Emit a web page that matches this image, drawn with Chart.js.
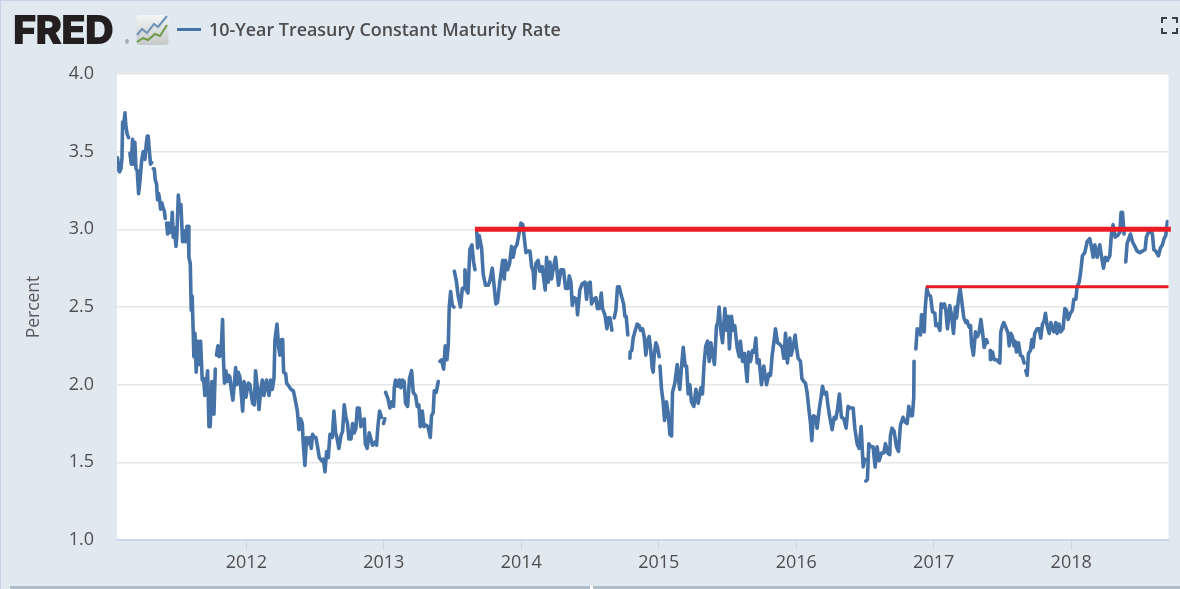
<!DOCTYPE html>
<html>
<head>
<meta charset="utf-8">
<title>10-Year Treasury Constant Maturity Rate</title>
<script src="https://cdn.jsdelivr.net/npm/chart.js@4/dist/chart.umd.min.js"></script>
<style>
  html, body { margin: 0; padding: 0; background: #e1e9f0; }
  #wrap { position: relative; width: 1180px; height: 589px; overflow: hidden; background: #e1e9f0; }
  #wrap canvas { position: absolute; left: 0; top: 0; }
  #topEdge { position: absolute; left: 0; top: 0; width: 1180px; height: 1px; background: #c6d3e6; }
  #leftEdge { position: absolute; left: 0; top: 0; width: 1px; height: 589px; background: #c6d3e6; }
  #bottomEdge { position: absolute; left: 10px; top: 586px; width: 1170px; height: 3px; background: #aebccb; }
  #notch { position: absolute; left: 590px; top: 586px; width: 3px; height: 3px; background: #ffffff; }
  #logo { position: absolute; left: 13px; top: 6px; font: 900 40px/48px Inter, sans-serif; letter-spacing: -0.9px; color: #231f20; }
  #reg { position: absolute; left: 125px; top: 39px; font: 5px/6px "Open Sans", sans-serif; color: #555; }
  #logoIcon { position: absolute; left: 136px; top: 14px; }
  #legendKey { position: absolute; left: 177px; top: 28px; width: 24px; height: 3px; background: #4572a7; }
  #legendText { position: absolute; left: 209px; top: 17px; font: 600 17.9px/24px "Open Sans", sans-serif; color: #4d4d4d; white-space: nowrap; }
  #fullscreen { position: absolute; left: 1161px; top: 17px; }
</style>
</head>
<body>
<div id="wrap">
  <canvas id="fredChart" width="1180" height="589"></canvas>
  <div id="topEdge"></div>
  <div id="leftEdge"></div>
  <div id="bottomEdge"></div>
  <div id="notch"></div>
  <div id="logo">FRED</div>
  <div id="reg">®</div>
  <svg id="logoIcon" width="33" height="32" viewBox="0 0 33 32">
    <defs>
      <linearGradient id="iconBg" x1="0" y1="0" x2="0" y2="1">
        <stop offset="0" stop-color="#f4f6f6"/>
        <stop offset="1" stop-color="#c4c8c8"/>
      </linearGradient>
    </defs>
    <rect x="0.5" y="1" width="32" height="30" rx="3" fill="url(#iconBg)"/>
    <polyline points="1,21 6,15 11,19 18,10 22,13 31,2" fill="none" stroke="#6d93b5" stroke-width="2"/>
    <polyline points="1,28 7,24 12,26 19,20 24,22 31,11" fill="none" stroke="#6f9a45" stroke-width="2"/>
  </svg>
  <div id="legendKey"></div>
  <div id="legendText">10-Year Treasury Constant Maturity Rate</div>
  <svg id="fullscreen" width="17" height="17" viewBox="0 0 17 17">
    <path d="M1 6V1H6M11 1H16V6M16 11V16H11M6 16H1V11" fill="none" stroke="#3a3f4a" stroke-width="2"/>
  </svg>
</div>
<script>
// values, null = missing day (line breaks there)
const dates2011 = [2011.063,2011.071,2011.078,2011.088,2011.095,2011.100,2011.109,2011.117,2011.124,2011.134,
  2011.143,2011.148,2011.153,2011.163,2011.172,2011.180,2011.189,2011.197,2011.206,2011.216,
  2011.226,2011.238,2011.250,2011.262,2011.272,2011.279,2011.286,2011.294,2011.303,2011.311,
  2011.315,2011.323,2011.330,2011.337,2011.347,2011.354,2011.362,2011.369,2011.376,2011.386,
  2011.393,2011.403,2011.410,2011.414,2011.420,2011.427,2011.434,2011.444,2011.454,2011.461,
  2011.468,2011.478,2011.488,2011.495,2011.505,2011.514,2011.524,2011.536,2011.546,2011.558,
  2011.568,2011.577,2011.582,2011.592,2011.599,2011.606,2011.614,2011.618,2011.626,2011.635,
  2011.648,2011.657,2011.667,2011.679,2011.689,2011.698,2011.708,2011.718,2011.728,2011.737,
  2011.749,2011.764,2011.774,2011.778,2011.783,2011.793,2011.803,2011.815,2011.827,2011.834,
  2011.841,2011.851,2011.861,2011.871,2011.880,2011.890,2011.902,2011.912,2011.922,2011.931,
  2011.941,2011.953,2011.973,2011.983,2011.997];
const rates2011 = [3.46,3.38,3.37,3.39,3.46,3.69,3.68,3.75,3.66,3.61,
  3.59,null,3.49,3.42,3.58,3.42,3.56,3.39,3.38,3.23,
  3.31,3.44,3.50,3.45,3.55,3.60,3.60,3.51,3.42,3.43,
  null,3.39,3.39,3.32,3.29,3.19,3.23,3.19,3.13,3.17,
  3.14,3.12,3.07,null,3.04,2.97,3.04,2.98,3.00,3.11,
  2.95,3.01,2.89,2.97,3.22,3.12,3.16,2.92,2.99,2.92,
  3.02,3.02,2.82,2.78,2.48,2.57,2.32,2.18,2.33,2.08,
  2.28,2.13,2.28,2.03,2.04,1.93,1.98,2.09,1.73,1.73,
  2.02,1.81,2.10,null,2.19,2.25,2.18,2.19,2.42,2.15,
  2.01,2.09,2.02,2.06,2.05,1.97,1.90,2.00,2.11,2.00,
  2.08,2.05,1.83,2.02,1.92];

const dates2012 = [2012.014,2012.026,2012.045,2012.058,2012.067,2012.080,2012.092,2012.104,2012.116,2012.128,
  2012.147,2012.165,2012.177,2012.189,2012.201,2012.208,2012.223,2012.235,2012.244,2012.256,
  2012.264,2012.271,2012.286,2012.293,2012.310,2012.324,2012.342,2012.354,2012.371,2012.383,
  2012.395,2012.407,2012.414,2012.426,2012.438,2012.450,2012.462,2012.472,2012.482,2012.497,
  2012.506,2012.518,2012.531,2012.548,2012.560,2012.572,2012.584,2012.596,2012.608,2012.625,
  2012.637,2012.649,2012.661,2012.673,2012.688,2012.700,2012.712,2012.724,2012.736,2012.746,
  2012.761,2012.773,2012.785,2012.797,2012.807,2012.821,2012.833,2012.845,2012.858,2012.865,
  2012.879,2012.894,2012.906,2012.918,2012.935,2012.947,2012.957,2012.969,2012.983,2012.992,
  2012.998];
const rates2012 = [2.01,2.00,1.88,1.87,2.09,1.98,1.84,1.96,2.03,1.93,
  2.03,1.93,2.03,1.97,2.04,2.29,2.39,2.24,2.19,2.29,
  2.29,2.08,2.07,2.01,1.99,1.97,1.96,1.91,1.83,1.71,
  1.78,1.75,1.62,1.48,1.66,1.62,1.66,1.59,1.68,1.66,
  1.66,1.60,1.53,1.51,1.52,1.44,1.57,1.53,1.68,1.66,
  1.83,1.69,1.65,1.59,1.67,1.70,1.87,1.79,1.75,1.65,
  1.65,1.75,1.69,1.72,1.85,1.85,1.73,1.77,1.78,1.62,
  1.59,1.69,1.65,1.61,1.63,1.61,1.73,1.83,1.79,null,
  1.75];

const dates2013 = [2013.007,2013.010,2013.013,2013.030,2013.044,2013.059,2013.071,2013.076,2013.085,2013.100,
  2013.112,2013.124,2013.134,2013.148,2013.158,2013.173,2013.187,2013.202,2013.214,2013.231,
  2013.243,2013.255,2013.265,2013.280,2013.292,2013.306,2013.321,2013.338,2013.347,2013.359,
  2013.367,2013.381,2013.396,2013.400,2013.408,2013.420,2013.435,2013.447,2013.459,2013.469,
  2013.476,2013.486,2013.498,2013.510,2013.511,2013.513,2013.527,2013.541,2013.558,2013.571,
  2013.585,2013.590,2013.600,2013.612,2013.626,2013.641,2013.653,2013.663,2013.666,2013.675,
  2013.682,2013.694,2013.711,2013.723,2013.740,2013.760,2013.772,2013.789,2013.803,2013.815,
  2013.827,2013.842,2013.856,2013.864,2013.876,2013.885,2013.900,2013.915,2013.929,2013.941,
  2013.953,2013.968,2013.983,2013.997];
const rates2013 = [1.78,null,1.95,1.91,1.85,1.89,1.86,1.98,2.03,1.99,
  2.03,1.98,2.03,2.02,1.88,1.86,2.04,2.09,1.95,1.93,
  1.86,1.87,1.73,1.83,1.73,1.74,1.73,1.66,1.80,1.82,
  1.96,1.95,2.02,null,2.15,2.16,2.10,2.25,2.16,2.26,
  2.50,2.60,2.51,2.50,null,2.73,2.67,2.57,2.50,2.62,
  2.62,2.74,2.61,2.59,2.87,2.90,2.79,2.74,null,3.00,
  2.88,2.96,2.88,2.71,2.64,2.64,2.67,2.75,2.63,2.52,
  2.53,2.65,2.74,2.80,2.68,2.80,2.74,2.78,2.89,2.82,
  2.88,2.90,2.97,3.04];

const dates2014 = [2014.011,2014.021,2014.034,2014.050,2014.063,2014.075,2014.087,2014.094,2014.106,2014.123,
  2014.135,2014.152,2014.162,2014.174,2014.184,2014.196,2014.208,2014.220,2014.235,2014.249,
  2014.259,2014.271,2014.288,2014.307,2014.322,2014.339,2014.349,2014.361,2014.371,2014.385,
  2014.402,2014.409,2014.426,2014.443,2014.463,2014.475,2014.487,2014.501,2014.511,2014.528,
  2014.543,2014.553,2014.567,2014.582,2014.591,2014.608,2014.623,2014.632,2014.645,2014.659,
  2014.664,2014.676,2014.688,2014.700,2014.712,2014.729,2014.744,2014.754,2014.763,2014.775,
  2014.782,2014.790,2014.792,2014.804,2014.814,2014.826,2014.843,2014.858,2014.867,2014.882,
  2014.894,2014.906,2014.918,2014.930,2014.942,2014.952,2014.959,2014.967,2014.979,2014.991];
const rates2014 = [3.03,2.95,2.85,2.86,2.86,2.76,2.73,2.62,2.78,2.80,
  2.73,2.76,2.69,2.61,2.82,2.66,2.79,2.68,2.76,2.82,
  2.74,2.64,2.74,2.74,2.62,2.62,2.70,2.66,2.51,2.56,
  2.55,2.45,2.61,2.65,2.66,2.55,2.65,2.66,2.52,2.55,
  2.56,2.49,2.49,2.59,2.49,2.45,2.36,2.43,2.43,2.35,
  null,2.43,2.48,2.63,2.63,2.57,2.52,2.44,2.44,2.32,
  null,2.17,2.21,2.22,2.30,2.34,2.39,2.38,2.35,2.36,
  2.31,2.19,2.28,2.31,2.22,2.11,2.08,2.19,2.27,2.24];

const dates2015 = [2015.003,2015.006,2015.009,2015.020,2015.032,2015.042,2015.056,2015.068,2015.081,2015.093,
  2015.100,2015.117,2015.134,2015.148,2015.153,2015.165,2015.178,2015.192,2015.202,2015.214,
  2015.226,2015.238,2015.255,2015.270,2015.287,2015.306,2015.318,2015.330,2015.342,2015.355,
  2015.367,2015.379,2015.391,2015.405,2015.420,2015.430,2015.439,2015.451,2015.464,2015.481,
  2015.493,2015.505,2015.514,2015.529,2015.541,2015.553,2015.570,2015.585,2015.594,2015.609,
  2015.624,2015.633,2015.643,2015.653,2015.667,2015.682,2015.694,2015.706,2015.716,2015.730,
  2015.747,2015.764,2015.784,2015.801,2015.813,2015.825,2015.837,2015.849,2015.864,2015.881,
  2015.898,2015.910,2015.922,2015.936,2015.953,2015.963,2015.977,2015.992];
const rates2015 = [2.18,null,2.12,1.97,1.89,1.77,1.89,1.82,1.68,1.67,
  1.95,2.01,2.13,2.00,1.97,2.11,2.24,2.12,2.12,1.94,
  2.00,1.89,1.86,1.97,1.88,1.98,1.94,2.14,2.25,2.28,
  2.15,2.27,2.20,2.13,2.38,2.40,2.50,2.35,2.27,2.49,
  2.35,2.44,2.23,2.44,2.35,2.38,2.24,2.18,2.28,2.15,
  2.20,2.11,2.02,2.21,2.15,2.22,2.21,2.30,2.14,2.16,
  2.00,2.12,2.00,2.07,2.06,2.19,2.27,2.36,2.27,2.26,
  2.24,2.17,2.33,2.14,2.30,2.19,2.24,2.32];

const dates2016 = [2016.002,2016.014,2016.031,2016.041,2016.055,2016.067,2016.079,2016.091,2016.104,2016.113,
  2016.125,2016.140,2016.152,2016.167,2016.179,2016.191,2016.205,2016.220,2016.230,2016.244,
  2016.261,2016.276,2016.288,2016.300,2016.314,2016.329,2016.346,2016.363,2016.377,2016.394,
  2016.414,2016.426,2016.443,2016.457,2016.472,2016.487,2016.499,2016.503,2016.506,2016.518,
  2016.528,2016.542,2016.559,2016.574,2016.588,2016.603,2016.620,2016.637,2016.649,2016.666,
  2016.680,2016.685,2016.697,2016.712,2016.729,2016.744,2016.758,2016.777,2016.792,2016.807,
  2016.819,2016.831,2016.845,2016.855,2016.857,2016.863,2016.870,2016.880,2016.894,2016.904,
  2016.911,2016.923,2016.931,2016.938,2016.950,2016.962,2016.977,2016.991];
const rates2016 = [2.24,2.17,2.15,2.04,2.02,2.01,1.95,1.85,1.75,1.64,
  1.80,1.79,1.72,1.84,1.91,1.99,1.94,1.95,1.87,1.79,
  1.71,1.79,1.78,1.84,1.94,1.79,1.78,1.72,1.86,1.85,
  1.85,1.72,1.62,1.59,1.73,1.47,1.52,null,1.38,1.39,
  1.62,1.60,1.60,1.47,1.60,1.51,1.56,1.56,1.62,1.56,
  1.55,1.67,1.72,1.70,1.60,1.57,1.74,1.79,1.76,1.75,
  1.86,1.80,1.80,1.92,2.15,null,2.23,2.36,2.35,2.32,
  2.45,2.45,2.34,2.49,2.62,2.58,2.57,2.47];

const dates2017 = [2017.008,2017.015,2017.028,2017.045,2017.054,2017.069,2017.078,2017.088,2017.100,2017.117,
  2017.129,2017.144,2017.158,2017.166,2017.180,2017.192,2017.205,2017.219,2017.234,2017.243,
  2017.258,2017.268,2017.275,2017.289,2017.304,2017.318,2017.331,2017.343,2017.355,2017.367,
  2017.384,2017.391,2017.398,2017.411,2017.413,2017.428,2017.440,2017.457,2017.469,2017.481,
  2017.488,2017.500,2017.510,2017.524,2017.541,2017.549,2017.561,2017.573,2017.583,2017.592,
  2017.602,2017.617,2017.631,2017.646,2017.658,2017.665,2017.670,2017.680,2017.689,2017.704,
  2017.714,2017.723,2017.735,2017.752,2017.767,2017.779,2017.791,2017.803,2017.813,2017.825,
  2017.840,2017.852,2017.864,2017.874,2017.888,2017.898,2017.912,2017.924,2017.941,2017.954,
  2017.966,2017.978,2017.995];
const rates2017 = [2.46,2.38,2.39,2.35,2.52,2.50,2.52,2.48,2.36,2.51,
  2.45,2.33,2.50,2.43,2.55,2.62,2.53,2.43,2.40,2.41,
  2.37,2.38,2.26,2.19,2.34,2.31,2.34,2.42,2.34,2.24,
  2.29,2.27,null,2.22,2.16,2.21,2.16,2.16,2.15,2.14,
  2.34,2.38,2.40,2.37,2.33,2.25,2.33,2.31,2.25,2.28,
  2.21,2.27,2.19,2.18,2.14,null,2.09,2.06,2.20,2.22,
  2.29,2.24,2.33,2.36,2.36,2.30,2.39,2.41,2.46,2.38,
  2.33,2.40,2.36,2.34,2.40,2.33,2.39,2.34,2.36,2.49,
  2.48,2.42,2.46];

const dates2018 = [2018.009,2018.019,2018.034,2018.043,2018.058,2018.067,2018.082,2018.099,2018.116,2018.135,
  2018.147,2018.160,2018.172,2018.189,2018.208,2018.220,2018.235,2018.249,2018.264,2018.281,
  2018.293,2018.305,2018.320,2018.337,2018.354,2018.363,2018.373,2018.385,2018.390,2018.397,
  2018.407,2018.419,2018.431,2018.446,2018.463,2018.480,2018.499,2018.518,2018.538,2018.547,
  2018.562,2018.577,2018.591,2018.601,2018.615,2018.635,2018.649,2018.664,2018.676,2018.688,
  2018.700];
const rates2018 = [2.48,2.55,2.55,2.63,2.66,2.71,2.83,2.85,2.92,2.94,
  2.89,2.82,2.90,2.82,2.90,2.83,2.75,2.82,2.80,2.83,
  2.97,3.03,2.95,2.96,2.98,3.11,3.11,2.97,null,2.79,
  2.91,2.94,2.97,2.92,2.89,2.86,2.85,2.86,2.87,2.95,
  2.98,2.99,2.97,2.87,2.86,2.83,2.88,2.90,2.94,2.96,
  3.05];

const dates = [].concat(dates2011, dates2012, dates2013, dates2014, dates2015, dates2016, dates2017, dates2018);
const rates = [].concat(rates2011, rates2012, rates2013, rates2014, rates2015, rates2016, rates2017, rates2018);

// the two hand drawn red levels
const upperLevelDates = [2013.663, 2018.725];
const upperLevelRates = [3.0, 3.0];
const lowerLevelDates = [2016.943, 2018.708];
const lowerLevelRates = [2.63, 2.63];

const yearTicks = [2012, 2013, 2014, 2015, 2016, 2017, 2018];
const rateTicks = [1.0, 1.5, 2.0, 2.5, 3.0, 3.5, 4.0];

function toPoints(xs, ys) {
  return xs.map(function(x, i) { return { x: x, y: ys[i] }; });
}

// white plot area on the blue-grey page
const plotBackground = {
  id: 'plotBackground',
  beforeDraw: function(chart) {
    const a = chart.chartArea;
    chart.ctx.save();
    chart.ctx.fillStyle = '#ffffff';
    chart.ctx.fillRect(a.left, a.top, a.right - a.left, a.bottom - a.top);
    chart.ctx.restore();
  }
};

const tickFont = { family: '"Open Sans", sans-serif', size: 18 };

const ctx = document.getElementById('fredChart').getContext('2d');
const fredChart = new Chart(ctx, {
  type: 'line',
  plugins: [plotBackground],
  data: {
    datasets: [
      {
        label: '10-Year Treasury Constant Maturity Rate',
        data: toPoints(dates, rates),
        borderColor: '#4572a7',
        borderWidth: 3.6,
        borderJoinStyle: 'round',
        borderCapStyle: 'round',
        pointRadius: 0,
        tension: 0,
        spanGaps: false,
        order: 2
      },
      {
        label: 'Upper level',
        data: toPoints(upperLevelDates, upperLevelRates),
        borderColor: '#ed1c24',
        borderWidth: 5,
        pointRadius: 0,
        clip: false,
        order: 1
      },
      {
        label: 'Lower level',
        data: toPoints(lowerLevelDates, lowerLevelRates),
        borderColor: '#ed1c24',
        borderWidth: 3,
        pointRadius: 0,
        clip: false,
        order: 1
      }
    ]
  },
  options: {
    responsive: false,
    animation: false,
    devicePixelRatio: 1,
    layout: { padding: { top: 74, right: 11.5, left: 0, bottom: 0 } },
    plugins: { legend: { display: false }, title: { display: false }, tooltip: { enabled: false } },
    scales: {
      x: {
        type: 'linear',
        min: 2011.059,
        max: 2018.708,
        afterFit: function(scale) { scale.height = 49; },
        afterBuildTicks: function(scale) {
          scale.ticks = yearTicks.map(function(v) { return { value: v }; });
        },
        border: { color: '#ccd6eb', width: 2 },
        grid: { drawOnChartArea: false, drawTicks: true, tickLength: 10, tickColor: '#ccd6eb', tickWidth: 1 },
        ticks: {
          color: '#4f4f4f',
          font: tickFont,
          padding: 2,
          maxRotation: 0,
          autoSkip: false,
          callback: function(value) { return String(value); }
        }
      },
      y: {
        min: 1,
        max: 4,
        afterFit: function(scale) { scale.width = 117; },
        afterBuildTicks: function(scale) {
          scale.ticks = rateTicks.map(function(v) { return { value: v }; });
        },
        border: { display: false },
        grid: { color: '#e6e6e6', lineWidth: 1.5, drawTicks: false },
        ticks: {
          color: '#4f4f4f',
          font: tickFont,
          padding: 23,
          callback: function(value) { return value.toFixed(1); }
        },
        title: {
          display: true,
          text: 'Percent',
          color: '#5a5a5a',
          font: { family: '"Open Sans", sans-serif', size: 17.5 },
          padding: { top: 24, bottom: 0 }
        }
      }
    }
  }
});
</script>
</body>
</html>
